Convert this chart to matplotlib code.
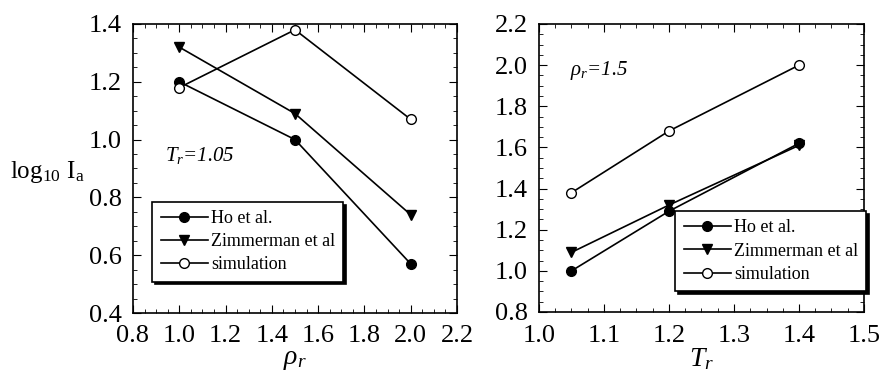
import matplotlib
matplotlib.use('Agg')
import matplotlib.pyplot as plt
from matplotlib.ticker import MultipleLocator

plt.rcParams['font.family'] = ['Liberation Serif', 'DejaVu Serif']
plt.rcParams['mathtext.fontset'] = 'custom'
plt.rcParams['mathtext.rm'] = 'Liberation Serif'
plt.rcParams['mathtext.it'] = 'Liberation Serif:italic'

# Panel izquierdo: T_r = 1.05
rho_r = [1.0, 1.5, 2.0]
ho_rho = [1.20, 1.00, 0.57]
zim_rho = [1.32, 1.09, 0.74]
sim_rho = [1.18, 1.38, 1.07]

# Panel derecho: rho_r = 1.5
T_r = [1.05, 1.2, 1.4]
ho_T = [1.00, 1.29, 1.62]
zim_T = [1.09, 1.32, 1.61]
sim_T = [1.38, 1.68, 2.00]

labels = ['Ho et al.', 'Zimmerman et al', 'simulation']


def draw(ax, x, series):
    styles = [dict(marker='o', mfc='black'),
              dict(marker='v', mfc='black'),
              dict(marker='o', mfc='white')]
    for y, st, lab in zip(series, styles, labels):
        ax.plot(x, y, color='black', lw=1.2, ms=7, mec='black',
                label=lab, **st)
    ax.tick_params(which='both', direction='in', top=True, right=True,
                   labelsize=19)
    ax.tick_params(axis='x', pad=9)
    ax.tick_params(axis='y', pad=8)
    ax.tick_params(which='major', length=6)
    ax.tick_params(which='minor', length=3)
    for s in ax.spines.values():
        s.set_linewidth(1.2)


def legend(ax, anchor):
    leg = ax.legend(loc='upper left', bbox_to_anchor=anchor,
                    fontsize=13, frameon=True, fancybox=False,
                    shadow={'color': 'black', 'alpha': 1.0},
                    handlelength=2.6, borderpad=0.45, labelspacing=0.35,
                    handletextpad=0.2, borderaxespad=0)
    leg.get_frame().set_edgecolor('black')
    leg.get_frame().set_linewidth(1.2)
    return leg


fig = plt.figure(figsize=(8.87, 3.81), dpi=100)
ax1 = fig.add_axes([133 / 887, 1 - 313 / 381, 324 / 887, 289 / 381])
ax2 = fig.add_axes([539 / 887, 1 - 312 / 381, 325 / 887, 288 / 381])

draw(ax1, rho_r, [ho_rho, zim_rho, sim_rho])
ax1.set_xlim(0.8, 2.2)
ax1.set_ylim(0.4, 1.4)
ax1.xaxis.set_major_locator(MultipleLocator(0.2))
ax1.xaxis.set_minor_locator(MultipleLocator(0.05))
ax1.yaxis.set_major_locator(MultipleLocator(0.2))
ax1.yaxis.set_minor_locator(MultipleLocator(0.05))
ax1.set_xlabel(r'$\rho_r$', fontsize=20, labelpad=0)
ax1.text(0.94, 0.925, r'$T_r$=1.05', fontsize=15, style='italic')
fig.text(10 / 887, 1 - 178 / 381, r'log$_{10}$ I$_{\rm a}$', fontsize=18)
legend(ax1, (0.06, 0.385))

draw(ax2, T_r, [ho_T, zim_T, sim_T])
ax2.set_xlim(1.0, 1.5)
ax2.set_ylim(0.8, 2.2)
ax2.xaxis.set_major_locator(MultipleLocator(0.1))
ax2.xaxis.set_minor_locator(MultipleLocator(0.025))
ax2.yaxis.set_major_locator(MultipleLocator(0.2))
ax2.yaxis.set_minor_locator(MultipleLocator(0.05))
ax2.set_xlabel(r'$T_r$', fontsize=20, labelpad=0)
ax2.text(1.048, 1.95, r'$\rho_r$=1.5', fontsize=15, style='italic')
legend(ax2, (0.42, 0.35))

fig.savefig('out.png', dpi=100)
